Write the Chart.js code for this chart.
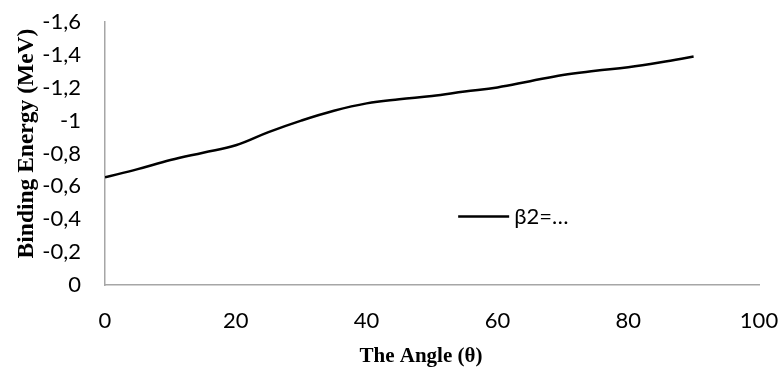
<!DOCTYPE html>
<html lang="en">
<head>
    <meta charset="UTF-8">
    <title>Binding Energy vs Angle</title>
    <script src="https://cdn.jsdelivr.net/npm/chart.js"></script>
    <style>
        body {
            margin: 0;
            background: white;
        }
        #wrap {
            width: 782px;
            height: 371px;
        }
    </style>
</head>
<body>
<div id="wrap"><canvas id="chart" width="782" height="371"></canvas></div>

<script>
    // Data
    const angles = [0, 5, 10, 15, 20, 25, 30, 35, 40, 45, 50, 55, 60, 65, 70, 75, 80, 85, 90];
    const bindingEnergy = [-0.655, -0.705, -0.76, -0.805, -0.85, -0.93, -1.0, -1.06, -1.105, -1.13, -1.15, -1.177, -1.202, -1.24, -1.278, -1.303, -1.325, -1.355, -1.39];
    const seriesLabel = 'β2=…';
    const xTitle = 'The Angle (θ)';
    const yTitle = 'Binding Energy (MeV)';

    const tickFont = { family: 'Lato, "Open Sans", sans-serif', size: 22 };
    const serif = '"Liberation Serif", "Times New Roman", serif';

    // legend inside the plot area + axis titles placed a little off-centre, like the original
    const extras = {
        id: 'extras',
        afterDraw(chart) {
            const { ctx, chartArea } = chart;
            const w = chartArea.right - chartArea.left;
            const h = chartArea.bottom - chartArea.top;
            const x0 = chartArea.left + w * 0.54;
            const y0 = chartArea.top + h * 0.74;
            ctx.save();
            ctx.strokeStyle = '#000';
            ctx.lineWidth = 2.5;
            ctx.beginPath();
            ctx.moveTo(x0, y0);
            ctx.lineTo(x0 + 51, y0);
            ctx.stroke();
            ctx.fillStyle = '#000';
            ctx.font = '22px ' + tickFont.family;
            ctx.textBaseline = 'middle';
            ctx.fillText(seriesLabel, x0 + 56, y0);

            // x title
            ctx.textAlign = 'center';
            ctx.font = 'bold 21px ' + serif;
            ctx.fillText(xTitle, chartArea.left + w / 2 - 11, 357);

            // y title
            ctx.translate(27, chartArea.top + h / 2 - 10);
            ctx.rotate(-Math.PI / 2);
            ctx.font = 'bold 23.5px ' + serif;
            ctx.fillText(yTitle, 0, 0);
            ctx.restore();
        }
    };

    const ctx = document.getElementById('chart').getContext('2d');
    new Chart(ctx, {
        type: 'line',
        data: {
            datasets: [{
                label: seriesLabel,
                data: angles.map((a, i) => ({ x: a, y: bindingEnergy[i] })),
                borderColor: '#000',
                borderWidth: 2.5,
                pointRadius: 0,
                tension: 0.4,
                fill: false
            }]
        },
        options: {
            responsive: false,
            animation: false,
            layout: { padding: { left: 13, top: 22, right: 23, bottom: 1 } },
            plugins: {
                legend: { display: false },
                tooltip: { enabled: false }
            },
            scales: {
                x: {
                    type: 'linear',
                    min: 0,
                    max: 100,
                    afterFit(scale) {
                        scale.height = 85;
                        scale.paddingLeft = 0;
                        scale.paddingRight = 0;
                    },
                    ticks: { stepSize: 20, color: '#000', font: tickFont, padding: 23 },
                    grid: { display: false, drawTicks: false },
                    border: { color: '#a6a6a6', width: 1.5 }
                },
                y: {
                    min: -1.6,
                    max: 0,
                    reverse: true,
                    afterFit(scale) {
                        scale.width = 92;
                        scale.paddingTop = 0;
                        scale.paddingBottom = 0;
                    },
                    ticks: {
                        stepSize: 0.2,
                        color: '#000',
                        font: tickFont,
                        padding: 24,
                        callback: v => {
                            const r = Math.round(v * 10) / 10;
                            return r === 0 ? '0' : String(r).replace('.', ',');
                        }
                    },
                    grid: { display: false, drawTicks: false },
                    border: { color: '#a6a6a6', width: 1.5 }
                }
            }
        },
        plugins: [extras]
    });
</script>
</body>
</html>
